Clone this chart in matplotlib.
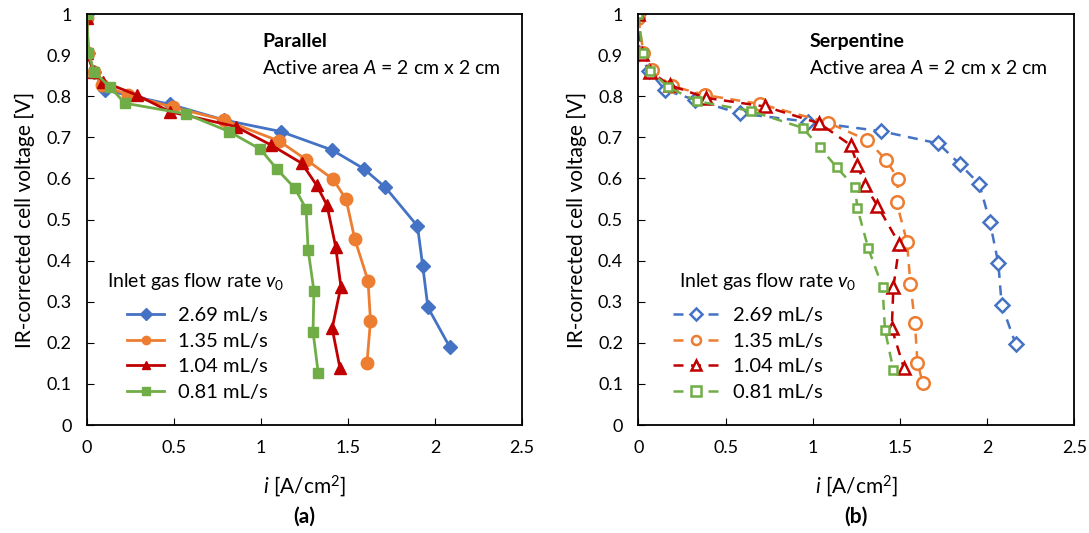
import matplotlib.pyplot as plt

plt.rcParams['font.family'] = ['Lato', 'DejaVu Sans']
plt.rcParams['mathtext.fontset'] = 'custom'
plt.rcParams['mathtext.it'] = 'Lato:italic'
plt.rcParams['mathtext.rm'] = 'Lato'

flow_labels = ["2.69 mL/s", "1.35 mL/s", "1.04 mL/s", "0.81 mL/s"]
colors = ["#4472C4", "#ED7D31", "#C00000", "#70AD47"]
markers = ["D", "o", "^", "s"]

# Parallel flow field
par_i_269 = [0, 0.01, 0.04, 0.105, 0.48, 0.79, 1.115, 1.41, 1.59, 1.716, 1.90, 1.93, 1.96, 2.085]
par_v_269 = [1.0, 0.905, 0.86, 0.815, 0.78, 0.742, 0.714, 0.669, 0.624, 0.578, 0.484, 0.387, 0.286, 0.19]
par_i_135 = [0, 0.01, 0.04, 0.086, 0.24, 0.497, 0.79, 1.105, 1.26, 1.415, 1.49, 1.54, 1.616, 1.63, 1.61]
par_v_135 = [0.99, 0.904, 0.86, 0.827, 0.803, 0.773, 0.742, 0.691, 0.646, 0.598, 0.549, 0.452, 0.351, 0.253, 0.152]
par_i_104 = [0, 0.0, 0.04, 0.096, 0.287, 0.48, 0.857, 1.06, 1.235, 1.32, 1.38, 1.43, 1.46, 1.41, 1.455]
par_v_104 = [0.99, 0.905, 0.86, 0.835, 0.803, 0.762, 0.726, 0.681, 0.637, 0.584, 0.535, 0.434, 0.337, 0.235, 0.138]
par_i_081 = [0, 0.01, 0.042, 0.134, 0.22, 0.57, 0.818, 0.998, 1.094, 1.196, 1.26, 1.272, 1.305, 1.30, 1.33]
par_v_081 = [1.0, 0.906, 0.86, 0.822, 0.783, 0.757, 0.714, 0.671, 0.622, 0.576, 0.526, 0.426, 0.327, 0.227, 0.126]

# Serpentine flow field
ser_i_269 = [0, 0.006, 0.06, 0.153, 0.325, 0.583, 0.975, 1.39, 1.72, 1.845, 1.955, 2.016, 2.064, 2.083, 2.164]
ser_v_269 = [1.0, 0.904, 0.862, 0.815, 0.791, 0.758, 0.738, 0.715, 0.685, 0.634, 0.586, 0.493, 0.393, 0.292, 0.196]
ser_i_135 = [0, 0.029, 0.076, 0.19, 0.382, 0.698, 1.086, 1.313, 1.42, 1.49, 1.48, 1.54, 1.56, 1.586, 1.60, 1.63]
ser_v_135 = [0.99, 0.904, 0.864, 0.825, 0.803, 0.781, 0.736, 0.693, 0.645, 0.598, 0.543, 0.446, 0.343, 0.247, 0.152, 0.103]
ser_i_104 = [0, 0.019, 0.067, 0.18, 0.388, 0.726, 1.038, 1.217, 1.256, 1.30, 1.37, 1.497, 1.462, 1.453, 1.523]
ser_v_104 = [1.0, 0.903, 0.86, 0.827, 0.796, 0.775, 0.734, 0.681, 0.633, 0.583, 0.534, 0.44, 0.335, 0.235, 0.138]
ser_i_081 = [0, 0.025, 0.067, 0.172, 0.334, 0.646, 0.942, 1.04, 1.137, 1.242, 1.256, 1.318, 1.40, 1.414, 1.462]
ser_v_081 = [1.0, 0.904, 0.862, 0.822, 0.788, 0.764, 0.723, 0.676, 0.627, 0.578, 0.527, 0.43, 0.335, 0.231, 0.134]

par_i = [par_i_269, par_i_135, par_i_104, par_i_081]
par_v = [par_v_269, par_v_135, par_v_104, par_v_081]
ser_i = [ser_i_269, ser_i_135, ser_i_104, ser_i_081]
ser_v = [ser_v_269, ser_v_135, ser_v_104, ser_v_081]

fig = plt.figure(figsize=(10.89, 5.33), dpi=100)
ax1 = fig.add_axes([0.0796, 0.2026, 0.3997, 0.7711])
ax2 = fig.add_axes([0.5862, 0.2026, 0.4004, 0.7711])

filled_sizes = [7, 9, 9, 7]
open_sizes = [7, 9, 9, 6]

for k in range(4):
    ax1.plot(par_i[k], par_v[k], color=colors[k], marker=markers[k],
             markersize=filled_sizes[k], linewidth=2, label=flow_labels[k])
    ax2.plot(ser_i[k], ser_v[k], color=colors[k], marker=markers[k],
             markersize=open_sizes[k], markerfacecolor="white",
             markeredgewidth=1.8, linewidth=1.8, dashes=(4, 3),
             label=flow_labels[k])

# (axes, title, tag, text x, legend title x, legend x, handle length, filled)
setup = [(ax1, "Parallel", "(a)", 0.403, 0.047, 0.0926, 1.85, True),
         (ax2, "Serpentine", "(b)", 0.392, 0.093, 0.0796, 2.3, False)]

for ax, title, tag, tx, ltx, legx, hl, filled in setup:
    ax.set_xlim(0, 2.5)
    ax.set_ylim(0, 1)
    ax.set_xticks([0, 0.5, 1, 1.5, 2, 2.5])
    ax.set_xticklabels(["0", "0.5", "1", "1.5", "2", "2.5"])
    ax.set_yticks([i / 10 for i in range(11)])
    ax.set_yticklabels(["0"] + ["0.%d" % i for i in range(1, 10)] + ["1"])
    ax.tick_params(direction="in", length=5, labelsize=13, pad=11, color="black")
    for s in ax.spines.values():
        s.set_color("black")
        s.set_linewidth(1.3)
    ax.set_xlabel(r"$i$ [A/cm$^2$]", fontsize=15, labelpad=12)
    ax.set_ylabel("IR-corrected cell voltage [V]", fontsize=15, labelpad=8)
    ax.text(tx, 0.932, title, transform=ax.transAxes,
            fontsize=14, fontweight="bold", va="center")
    ax.text(tx, 0.869, r"Active area $A$ = 2 cm x 2 cm",
            transform=ax.transAxes, fontsize=14, va="center")
    ax.text(0.5, -0.224, tag, transform=ax.transAxes, fontsize=15,
            fontweight="bold", ha="center", va="center")
    ax.text(ltx, 0.348, r"Inlet gas flow rate $v_0$", transform=ax.transAxes,
            fontsize=14, va="center")
    leg = ax.legend(loc="center left", bbox_to_anchor=(legx, 0.173),
                    frameon=False, fontsize=14.5, handlelength=hl,
                    handletextpad=0.7, labelspacing=0.42, borderpad=0,
                    borderaxespad=0)
    for h in leg.legend_handles:
        h.set_markersize(6 if filled else 6.5)

fig.savefig("out.png", dpi=100)
